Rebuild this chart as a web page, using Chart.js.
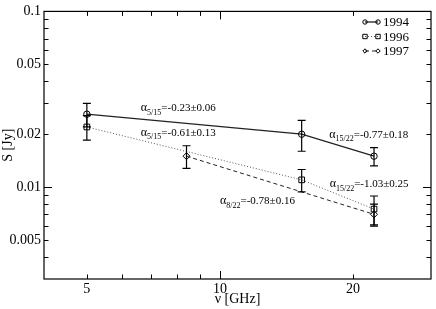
<!DOCTYPE html>
<html>
<head>
<meta charset="utf-8">
<script src="https://cdn.jsdelivr.net/npm/chart.js@4/dist/chart.umd.min.js"></script>
<style>
  html, body { margin: 0; padding: 0; background: #fff; }
  #chart { display: block; }
</style>
</head>
<body>
<canvas id="chart" width="436" height="309"></canvas>
<script>
// Flux density per epoch (GHz, Jy, 1-sigma error)
const freq1994 = [5, 15.3, 22.3];
const flux1994 = [0.026, 0.020, 0.015];
const err1994 = [0.004, 0.004, 0.0018];

const freq1996 = [5, 15.3, 22.3];
const flux1996 = [0.022, 0.011, 0.0075];
const err1996 = [0.0035, 0.0016, 0.0014];

const freq1997 = [8.4, 22.3];
const flux1997 = [0.015, 0.007];
const err1997 = [0.0022, 0.001];

// Axis ticks
const xTickLabels = [5, 10, 20];
const yTickLabels = [0.005, 0.01, 0.02, 0.05, 0.1];
const xTickMarks = [5, 6, 7, 8, 9, 10, 20];
const xMajorMarks = [10];
const yTickMarks = [0.004, 0.005, 0.006, 0.007, 0.008, 0.009, 0.01,
  0.02, 0.03, 0.04, 0.05, 0.06, 0.07, 0.08, 0.09];
const yMajorMarks = [0.01];

// Spectral index labels
const alphaRanges = ['5/15', '5/15', '8/22', '15/22', '15/22'];
const alphaValues = ['-0.23±0.06', '-0.61±0.13', '-0.78±0.16', '-0.77±0.18', '-1.03±0.25'];

const SERIF = '"Liberation Serif", "DejaVu Serif", serif';

function points(xs, ys, errs) {
  return xs.map((x, i) => ({ x, y: ys[i], err: errs[i] }));
}

function drawMarker(ctx, style, r, x, y) {
  ctx.beginPath();
  if (style === 'circle') {
    ctx.arc(x, y, r, 0, Math.PI * 2);
  } else if (style === 'rect') {
    ctx.rect(x - r, y - r, 2 * r, 2 * r);
  } else {
    ctx.moveTo(x, y - r);
    ctx.lineTo(x + r, y);
    ctx.lineTo(x, y + r);
    ctx.lineTo(x - r, y);
    ctx.closePath();
  }
  ctx.stroke();
}

// Frame, inward ticks, error bars, labels and legend
const decorations = {
  id: 'decorations',
  afterDatasetsDraw(chart, args, opts) {
    const { ctx, chartArea: a, scales: { x, y } } = chart;
    ctx.save();
    ctx.strokeStyle = '#000';
    ctx.fillStyle = '#000';

    // error bars
    ctx.lineWidth = 1.2;
    chart.data.datasets.forEach(ds => {
      ds.data.forEach(p => {
        const px = x.getPixelForValue(p.x);
        const top = y.getPixelForValue(p.y + p.err);
        const bot = y.getPixelForValue(p.y - p.err);
        ctx.beginPath();
        ctx.moveTo(px, top); ctx.lineTo(px, bot);
        ctx.moveTo(px - 4, top); ctx.lineTo(px + 4, top);
        ctx.moveTo(px - 4, bot); ctx.lineTo(px + 4, bot);
        ctx.stroke();
      });
    });

    // frame
    ctx.lineWidth = 1.2;
    ctx.strokeRect(a.left, a.top, a.right - a.left, a.bottom - a.top);

    // inward ticks on all four sides
    ctx.lineWidth = 1;
    ctx.beginPath();
    xTickMarks.forEach(v => {
      const px = Math.round(x.getPixelForValue(v)) + 0.5;
      const len = xMajorMarks.includes(v) ? 8 : 4.5;
      ctx.moveTo(px, a.bottom); ctx.lineTo(px, a.bottom - len);
      ctx.moveTo(px, a.top); ctx.lineTo(px, a.top + len);
    });
    yTickMarks.forEach(v => {
      const py = Math.round(y.getPixelForValue(v)) + 0.5;
      const len = yMajorMarks.includes(v) ? 8 : 4.5;
      ctx.moveTo(a.left, py); ctx.lineTo(a.left + len, py);
      ctx.moveTo(a.right, py); ctx.lineTo(a.right - len, py);
    });
    ctx.stroke();

    // spectral index annotations
    ctx.textBaseline = 'alphabetic';
    ctx.textAlign = 'left';
    opts.anchors.forEach((an, i) => {
      let px = x.getPixelForValue(an.x);
      const py = y.getPixelForValue(an.y);
      ctx.font = '12px ' + SERIF;
      ctx.fillText('α', px, py);
      px += ctx.measureText('α').width;
      ctx.font = '8px ' + SERIF;
      ctx.fillText(alphaRanges[i], px, py + 3.5);
      px += ctx.measureText(alphaRanges[i]).width;
      ctx.font = '11px ' + SERIF;
      ctx.fillText('=' + alphaValues[i], px, py);
    });

    // legend
    const lg = opts.legend;
    ctx.font = '13px ' + SERIF;
    ctx.textBaseline = 'middle';
    chart.data.datasets.forEach((ds, i) => {
      const ly = lg.top + i * lg.row;
      const x0 = a.right - lg.right;
      const x1 = x0 + lg.width;
      ctx.strokeStyle = ds.borderColor;
      ctx.lineWidth = ds.borderWidth;
      ctx.setLineDash(ds.borderDash || []);
      ctx.beginPath();
      ctx.moveTo(x0, ly); ctx.lineTo(x1, ly);
      ctx.stroke();
      ctx.setLineDash([]);
      ctx.strokeStyle = '#000';
      ctx.lineWidth = 1;
      drawMarker(ctx, ds.pointStyle, 2.2, x0, ly);
      drawMarker(ctx, ds.pointStyle, 2.2, x1, ly);
      ctx.fillText(ds.label, x1 + 5, ly + 1);
    });
    ctx.restore();
  }
};

const tickFont = { family: SERIF, size: 14 };

new Chart(document.getElementById('chart'), {
  type: 'line',
  data: {
    datasets: [
      {
        label: '1994',
        data: points(freq1994, flux1994, err1994),
        borderColor: '#222', borderWidth: 1.3,
        pointStyle: 'circle', pointRadius: 3.2,
        pointBorderColor: '#000', pointBackgroundColor: 'rgba(0,0,0,0)', pointBorderWidth: 1
      },
      {
        label: '1996',
        data: points(freq1996, flux1996, err1996),
        borderColor: '#555', borderWidth: 1, borderDash: [1, 2],
        pointStyle: 'rect', pointRadius: 4,
        pointBorderColor: '#000', pointBackgroundColor: 'rgba(0,0,0,0)', pointBorderWidth: 1
      },
      {
        label: '1997',
        data: points(freq1997, flux1997, err1997),
        borderColor: '#222', borderWidth: 1, borderDash: [4, 3],
        pointStyle: 'rectRot', pointRadius: 3.5,
        pointBorderColor: '#000', pointBackgroundColor: 'rgba(0,0,0,0)', pointBorderWidth: 1
      }
    ]
  },
  options: {
    responsive: false,
    animation: false,
    devicePixelRatio: 1,
    layout: { padding: { top: 6, right: 3, left: 0, bottom: 0 } },
    elements: { line: { tension: 0, fill: false } },
    plugins: {
      legend: { display: false },
      tooltip: { enabled: false },
      decorations: {
        anchors: [
          { x: 6.62, y: 0.0270 },
          { x: 6.62, y: 0.0196 },
          { x: 10.0, y: 0.0080 },
          { x: 17.66, y: 0.0191 },
          { x: 17.7, y: 0.0100 }
        ],
        legend: { top: 22, row: 14.5, right: 66, width: 13 }
      }
    },
    scales: {
      x: {
        type: 'logarithmic',
        min: 4, max: 30,
        afterBuildTicks: s => { s.ticks = xTickLabels.map(v => ({ value: v })); },
        afterFit: s => { s.height = 30; },
        ticks: { callback: v => String(v), font: tickFont, color: '#000', padding: 2, maxRotation: 0, autoSkip: false },
        grid: { display: false, drawTicks: false },
        border: { display: false },
        title: { display: true, text: 'ν [GHz]', font: tickFont, color: '#000', padding: { top: 0, bottom: 1 } }
      },
      y: {
        type: 'logarithmic',
        min: 0.003, max: 0.1,
        afterBuildTicks: s => { s.ticks = yTickLabels.map(v => ({ value: v })); },
        afterFit: s => { s.width = 44; },
        ticks: { callback: v => String(v), font: tickFont, color: '#000', padding: 3, autoSkip: false },
        grid: { display: false, drawTicks: false },
        border: { display: false },
        title: { display: true, text: 'S [Jy]', font: tickFont, color: '#000', padding: { top: 0, bottom: 0 } }
      }
    }
  },
  plugins: [decorations]
});
</script>
</body>
</html>
